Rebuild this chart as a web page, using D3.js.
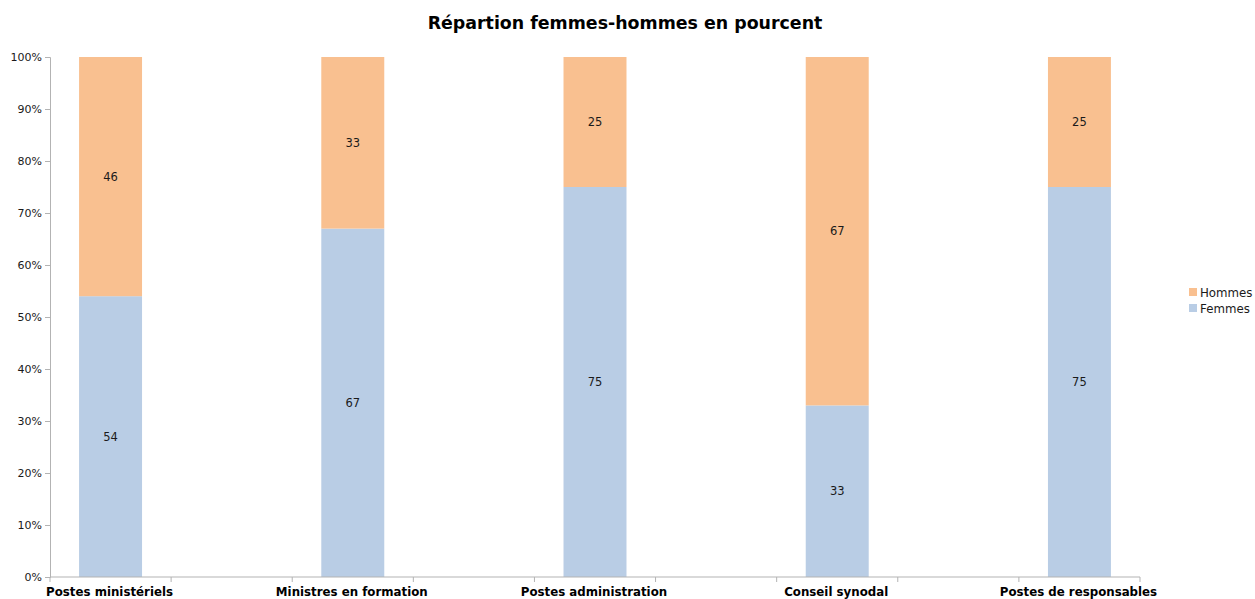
<!DOCTYPE html>
<html>
<head>
<meta charset="utf-8">
<script src="https://cdn.jsdelivr.net/npm/d3@7"></script>
<style>
body { margin: 0; background: #fff; }
text { font-family: "DejaVu Sans", sans-serif; }
</style>
</head>
<body>
<div id="svg"></div>
<script>
var width = 1255;
var height = 599;

var categories = ['Postes ministériels', 'Ministres en formation', 'Postes administration', 'Conseil synodal', 'Postes de responsables'];
var femmes = [54, 67, 75, 33, 75];
var hommes = [46, 33, 25, 67, 25];
var series_names = ['Femmes', 'Hommes'];
var y_ticks = [0, 10, 20, 30, 40, 50, 60, 70, 80, 90, 100];

var colors = { Femmes: '#b9cde5', Hommes: '#f9c090' };

var plot_left = 50, plot_right = 1140, plot_top = 57, plot_bottom = 577;

var canvas = d3.select('#svg')
	.append('svg')
	.attr('width', width)
	.attr('height', height);

// each category sits in an even slot, odd slots stay empty
var slot = d3.scaleBand()
	.domain(d3.range(categories.length * 2 - 1))
	.range([plot_left, plot_right])
	.padding(0);

var y = d3.scaleLinear()
	.domain([0, 100])
	.range([plot_bottom, plot_top]);

var table = categories.map((c, i) => ({ cat: c, Femmes: femmes[i], Hommes: hommes[i], slot: i * 2 }));

var stack = d3.stack().keys(series_names);
var layers = stack(table);

var barX = (d) => slot(d.data.slot) + slot.bandwidth() * 0.24;
var barW = slot.bandwidth() * 0.52;

var layer = canvas.selectAll('.layer')
	.data(layers)
	.enter().append('g')
		.attr('class', 'layer')
		.style('fill', (d) => colors[d.key]);

layer.selectAll('rect')
	.data((d) => d)
	.enter().append('rect')
		.attr('x', barX)
		.attr('width', barW)
		.attr('y', (d) => y(d[1]))
		.attr('height', (d) => y(d[0]) - y(d[1]));

layer.selectAll('.lbl')
	.data((d) => d.map((v) => ({ v: v, key: d.key })))
	.enter().append('text')
		.attr('class', 'lbl')
		.attr('x', (d) => barX(d.v) + barW / 2)
		.attr('y', (d) => (y(d.v[0]) + y(d.v[1])) / 2 + 4)
		.attr('text-anchor', 'middle')
		.style('font-size', '11.5px')
		.style('fill', '#1a1a1a')
		.text((d) => d.v.data[d.key]);

// y axis
var yAxis = d3.axisLeft(y)
	.tickValues(y_ticks)
	.tickSize(5)
	.tickFormat((d) => d + '%');

var gy = canvas.append('g')
	.attr('transform', 'translate(' + plot_left + ',0)')
	.call(yAxis);
gy.select('.domain').attr('stroke', '#b3b3b3');
gy.selectAll('.tick line').attr('stroke', '#b3b3b3');
gy.selectAll('.tick text')
	.attr('x', -8)
	.style('font-size', '11px')
	.style('fill', '#1a1a1a')
	.style('font-family', '"DejaVu Sans", sans-serif');

// x axis: ticks at slot borders
var borders = d3.range(slot.domain().length + 1).map((i) => plot_left + i * slot.step());
var gx = canvas.append('g');
gx.append('line')
	.attr('x1', plot_left).attr('x2', plot_right)
	.attr('y1', plot_bottom).attr('y2', plot_bottom)
	.attr('stroke', '#b3b3b3');
gx.selectAll('.xt')
	.data(borders)
	.enter().append('line')
		.attr('class', 'xt')
		.attr('x1', (d) => d).attr('x2', (d) => d)
		.attr('y1', plot_bottom).attr('y2', plot_bottom + 5)
		.attr('stroke', '#b3b3b3');
gx.selectAll('.xl')
	.data(table)
	.enter().append('text')
		.attr('class', 'xl')
		.attr('x', (d) => slot(d.slot) + slot.bandwidth() * 0.5 - 1)
		.attr('y', 596)
		.attr('text-anchor', 'middle')
		.style('font-size', '11.8px')
		.style('font-weight', 'bold')
		.style('fill', '#000')
		.text((d) => d.cat);

// title
canvas.append('text')
	.attr('x', 625)
	.attr('y', 29)
	.attr('text-anchor', 'middle')
	.style('font-size', '17.4px')
	.style('font-weight', 'bold')
	.text('Répartion femmes-hommes en pourcent');

// legend
var legend = canvas.selectAll('.leg')
	.data(series_names.slice().reverse())
	.enter().append('g')
		.attr('class', 'leg')
		.attr('transform', (d, i) => 'translate(1189,' + (288 + i * 16) + ')');
legend.append('rect')
	.attr('width', 8).attr('height', 8)
	.style('fill', (d) => colors[d]);
legend.append('text')
	.attr('x', 11)
	.attr('y', 9)
	.style('font-size', '11.8px')
	.style('fill', '#1a1a1a')
	.text((d) => d);
</script>
</body>
</html>
